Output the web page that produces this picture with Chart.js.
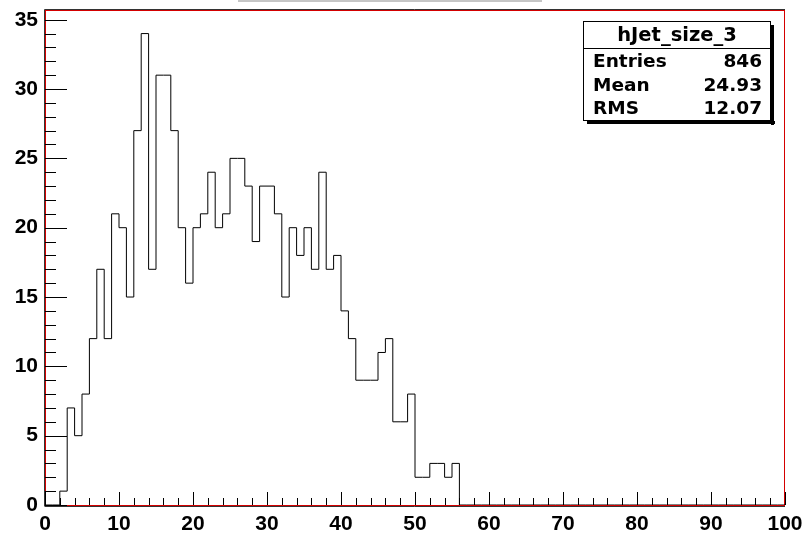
<!DOCTYPE html>
<html>
<head>
<meta charset="utf-8">
<script src="https://cdn.jsdelivr.net/npm/chart.js@4/dist/chart.umd.min.js"></script>
<style>
  html, body { margin: 0; padding: 0; background: #fff; }
  #wrap { width: 810px; height: 533px; }
</style>
</head>
<body>
<div id="wrap"><canvas id="hist" width="810" height="533"></canvas></div>
<script>
// histogram hJet_size_3: 100 bins from 0 to 100
const xMin = 0;
const xMax = 100;
const binWidth = 1;
const counts = [
  0, 0, 1, 7, 5, 8, 12, 17, 12, 21,
  20, 15, 27, 34, 17, 31, 31, 27, 20, 16,
  20, 21, 24, 20, 21, 25, 25, 23, 19, 23,
  23, 21, 15, 20, 18, 20, 17, 24, 17, 18,
  14, 12, 9, 9, 9, 11, 12, 6, 6, 8,
  2, 2, 3, 3, 2, 3, 0, 0, 0, 0,
  0, 0, 0, 0, 0, 0, 0, 0, 0, 0,
  0, 0, 0, 0, 0, 0, 0, 0, 0, 0,
  0, 0, 0, 0, 0, 0, 0, 0, 0, 0,
  0, 0, 0, 0, 0, 0, 0, 0, 0, 0
];
const yMax = 35.7;
const xMajorTicks = [0, 10, 20, 30, 40, 50, 60, 70, 80, 90, 100];
const yMajorTicks = [0, 5, 10, 15, 20, 25, 30, 35];
const xMinorStep = 2;
const yMinorStep = 1;

const statsTitle = "hJet_size_3";
const statsLabels = ["Entries", "Mean", "RMS"];
const statsValues = ["846", "24.93", "12.07"];

const AXIS_FONT = "'Liberation Sans', Arial, sans-serif";
const STATS_FONT = "'DejaVu Sans', 'Liberation Sans', sans-serif";

// step points: one per bin low edge, plus the closing edge
const points = counts.map((c, i) => ({ x: xMin + i * binWidth, y: c }));
points.push({ x: xMax, y: counts[counts.length - 1] });

const rootFrame = {
  id: "rootFrame",
  beforeDatasetsDraw(chart) {
    const { ctx, chartArea: a, scales } = chart;
    ctx.save();
    ctx.lineWidth = 1;
    // dark outer edge on top and left, red frame inside
    ctx.strokeStyle = "#333";
    ctx.beginPath();
    ctx.moveTo(a.left - 0.5, a.top - 0.5);
    ctx.lineTo(a.right, a.top - 0.5);
    ctx.moveTo(a.left - 0.5, a.top - 0.5);
    ctx.lineTo(a.left - 0.5, a.bottom + 1);
    ctx.moveTo(a.left - 0.5, a.bottom + 1.5);
    ctx.lineTo(a.right, a.bottom + 1.5);
    ctx.stroke();
    ctx.strokeStyle = "#d40000";
    ctx.strokeRect(a.left + 0.5, a.top + 0.5, a.right - a.left - 1, a.bottom - a.top);

    // ticks, pointing into the frame
    ctx.strokeStyle = "#000";
    ctx.beginPath();
    for (let v = xMin; v <= xMax; v += xMinorStep) {
      const px = Math.round(scales.x.getPixelForValue(v)) + 0.5;
      const len = xMajorTicks.includes(v) ? 13 : 7;
      ctx.moveTo(px, a.bottom);
      ctx.lineTo(px, a.bottom - len);
    }
    for (let v = 0; v <= yMajorTicks[yMajorTicks.length - 1]; v += yMinorStep) {
      const py = Math.round(scales.y.getPixelForValue(v)) + 0.5;
      const len = yMajorTicks.includes(v) ? 22 : 11;
      ctx.moveTo(a.left, py);
      ctx.lineTo(a.left + len, py);
    }
    ctx.stroke();

    // title pave edge peeking at the top
    ctx.strokeStyle = "#8c8c8c";
    ctx.beginPath();
    ctx.moveTo(238, 1);
    ctx.lineTo(542, 1);
    ctx.stroke();
    ctx.restore();
  },
  afterDraw(chart) {
    const { ctx } = chart;
    const bx = 583, by = 21, bw = 188, bh = 100;
    ctx.save();
    // shadow
    ctx.fillStyle = "#000";
    ctx.fillRect(bx + bw, by + 4, 3, bh);
    ctx.fillRect(bx + 4, by + bh, bw, 3);
    ctx.fillStyle = "#fff";
    ctx.fillRect(bx, by, bw, bh);
    ctx.strokeStyle = "#000";
    ctx.lineWidth = 1;
    ctx.strokeRect(bx + 0.5, by + 0.5, bw - 1, bh - 1);
    ctx.beginPath();
    ctx.moveTo(bx, by + 27.5);
    ctx.lineTo(bx + bw, by + 27.5);
    ctx.stroke();

    ctx.fillStyle = "#000";
    ctx.textBaseline = "middle";
    ctx.textAlign = "center";
    ctx.font = "bold 19.5px " + STATS_FONT;
    ctx.fillText(statsTitle, bx + bw / 2, by + 15);
    ctx.font = "bold 18.5px " + STATS_FONT;
    statsLabels.forEach((label, i) => {
      const y = by + 41 + i * 23.7;
      ctx.textAlign = "left";
      ctx.fillText(label, bx + 10, y);
      ctx.textAlign = "right";
      ctx.fillText(statsValues[i], bx + bw - 9, y);
    });
    ctx.restore();
  }
};

new Chart(document.getElementById("hist"), {
  type: "line",
  data: {
    datasets: [{
      data: points,
      stepped: true,
      borderColor: "#000",
      borderWidth: 1,
      pointRadius: 0,
      fill: false
    }]
  },
  options: {
    responsive: false,
    animation: false,
    layout: { padding: { left: 0, top: 10, right: 25, bottom: 0 } },
    plugins: { legend: { display: false }, tooltip: { enabled: false } },
    scales: {
      x: {
        type: "linear",
        min: xMin,
        max: xMax,
        grid: { display: false, drawTicks: false },
        border: { display: false },
        afterBuildTicks: s => { s.ticks = xMajorTicks.map(v => ({ value: v })); },
        afterFit: s => {
          s.height = 28;
          s.paddingLeft = 0;
          s.paddingRight = 0;
        },
        ticks: {
          color: "#000",
          padding: 7,
          maxRotation: 0,
          autoSkip: false,
          font: { family: AXIS_FONT, size: 21, weight: "bold" }
        }
      },
      y: {
        min: 0,
        max: yMax,
        grid: { display: false, drawTicks: false },
        border: { display: false },
        afterBuildTicks: s => { s.ticks = yMajorTicks.map(v => ({ value: v })); },
        afterFit: s => {
          s.width = 45;
          s.paddingTop = 0;
          s.paddingBottom = 0;
        },
        ticks: {
          color: "#000",
          padding: 7,
          autoSkip: false,
          font: { family: AXIS_FONT, size: 21, weight: "bold" }
        }
      }
    }
  },
  plugins: [rootFrame]
});
</script>
</body>
</html>
